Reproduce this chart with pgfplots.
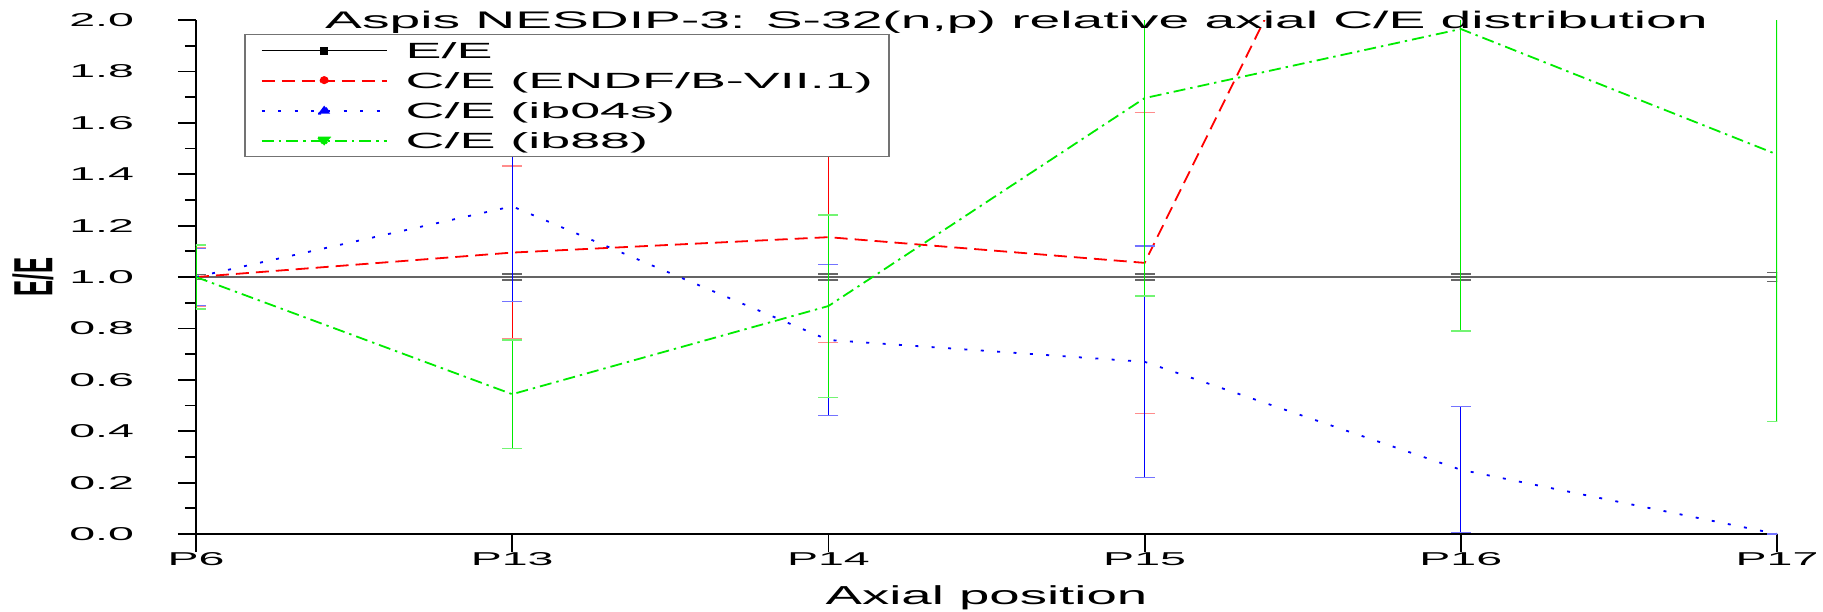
\documentclass[border=0pt]{standalone}
\usepackage{fontspec}
\usepackage{graphicx}
\usepackage{pgfplots}
\usepackage{pgfplotstable}
\pgfplotsset{compat=1.18}
\setmainfont{Liberation Sans}
\newfontfamily\tickfont[FakeStretch=2.5]{Liberation Sans}
\newfontfamily\legfont[FakeStretch=2.45]{Liberation Sans}
\newfontfamily\titlefont[FakeStretch=2.3]{Liberation Sans}
\newfontfamily\labfont[FakeStretch=2.1]{Liberation Sans}

\definecolor{oRed}{RGB}{255,0,0}
\definecolor{oBlue}{RGB}{0,0,255}
\definecolor{oGreen}{RGB}{0,235,0}
\definecolor{oGrey}{RGB}{100,100,100}

% legend samples: line with a marker in the middle
\pgfplotsset{
  legEE/.style={legend image code/.code={\draw[##1, black, line width=0.7pt] (0pt,0pt) -- (62.5pt,0pt);
    \fill[black] (29.75pt,-1.5pt) rectangle (32.75pt,1.5pt);}},
  legEndf/.style={legend image code/.code={\draw[##1] (0pt,0pt) -- (62.5pt,0pt);
    \fill[oRed] (31.25pt,0pt) circle (1.8pt);}},
  legIbf/.style={legend image code/.code={\draw[##1] (0pt,0pt) -- (62.5pt,0pt);
    \fill[oBlue] (28.25pt,-1.5pt) -- (34.25pt,-1.5pt) -- (31.25pt,2.5pt) -- cycle;}},
  legIbe/.style={legend image code/.code={\draw[##1] (0pt,0pt) -- (62.5pt,0pt);
    \fill[oGreen] (28.25pt,1.5pt) -- (34.25pt,1.5pt) -- (31.25pt,-2.5pt) -- cycle;}},
}

% x: 0=P6 1=P13 2=P14 3=P15 4=P16 5=P17
\pgfplotstableread{
x y e
0 1.000 0.010
1 1.000 0.012
2 1.000 0.012
3 1.000 0.012
4 1.000 0.012
5 1.000 0.018
}\eeData
\pgfplotstableread{
x y e
0 1.000 0.115
1 1.095 0.337
2 1.155 0.410
3 1.055 0.585
4 3.550 0.500
5 3.000 0.500
}\endfData
\pgfplotstableread{
x y e
0 1.000 0.110
1 1.275 0.370
2 0.755 0.293
3 0.670 0.450
4 0.250 0.245
5 0.000 0.000
}\ibfoursData
\pgfplotstableread{
x y e
0 1.000 0.125
1 0.544 0.211
2 0.887 0.355
3 1.696 0.770
4 1.965 1.175
5 1.477 1.040
}\ibeightData

\begin{document}
\begin{tikzpicture}
\begin{axis}[
  scale only axis,
  width=790.5pt, height=257pt,
  xmin=0, xmax=5, ymin=0, ymax=2,
  axis x line*=bottom, axis y line*=left,
  axis line style={-, black},
  x axis line style={line width=0.85pt},
  y axis line style={line width=1.35pt},
  xtick={0,1,2,3,4,5},
  xticklabels={P6,P13,P14,P15,P16,P17},
  ytick={0,0.2,0.4,0.6,0.8,1.0,1.2,1.4,1.6,1.8,2.0},
  yticklabels={0.0,0.2,0.4,0.6,0.8,1.0,1.2,1.4,1.6,1.8,2.0},
  minor y tick num=1,
  tick align=outside,
  xtick pos=bottom, ytick pos=left,
  major tick length=9pt, minor tick length=5.5pt,
  tick style={black, line width=0.9pt},
  tick label style={font=\tickfont\fontsize{9.3}{11}\selectfont},
  xticklabel style={anchor=base, yshift=-6.5pt},
  yticklabel style={anchor=east, xshift=-18.5pt},
  title={Aspis NESDIP-3: S-32(n,p) relative axial C/E distribution},
  every axis title shift=0pt,
  title style={at={(0.519,0.984)}, anchor=base, yshift=0pt, inner sep=0pt,
    font=\titlefont\fontsize{12}{14}\selectfont},
  xlabel={Axial position},
  xlabel style={at={(axis description cs:0.5,-0.138)}, anchor=base, inner sep=0pt,
    font=\labfont\fontsize{13}{15}\selectfont},
  ylabel={\scalebox{1}[2.3]{E/E}},
  ylabel style={at={(axis description cs:-0.1031,0.5)}, anchor=center, inner sep=0pt,
    font=\bfseries\fontsize{12}{14}\selectfont},
  legend style={at={(0.0304,0.973)}, anchor=north west,
    draw=black!55, line width=0.75pt, fill=white,
    inner xsep=8pt, inner ysep=0.5pt, row sep=0pt, column sep=9pt,
    font=\legfont\fontsize{11}{13}\selectfont,
    nodes={inner sep=0pt, text height=11.4pt, text depth=3.6pt}},
  legend cell align=left,
]
\addplot[oGrey, line width=1.1pt, legEE,
  error bars/.cd, y dir=both, y explicit, error mark=-,
  error bar style={line width=0.6pt, oGrey},
  error mark options={rotate=90, mark size=5pt, line width=0.7pt, black!60}]
  table[x=x, y=y, y error=e] {\eeData};
\addlegendentry{E/E}
\addplot[oRed, line width=0.9pt, dash pattern=on 6.5pt off 3.5pt, legEndf,
  error bars/.cd, y dir=both, y explicit, error mark=-,
  error bar style={line width=0.6pt, solid, oRed},
  error mark options={rotate=90, mark size=5pt, line width=0.7pt, solid, oRed!45}]
  table[x=x, y=y, y error=e] {\endfData};
\addlegendentry{C/E (ENDF/B-VII.1)}
\addplot[oBlue, line width=0.9pt, dash pattern=on 1.5pt off 6.7pt, legIbf,
  error bars/.cd, y dir=both, y explicit, error mark=-,
  error bar style={line width=0.6pt, solid, oBlue},
  error mark options={rotate=90, mark size=5pt, line width=0.7pt, solid, oBlue!55}]
  table[x=x, y=y, y error=e] {\ibfoursData};
\addlegendentry{C/E (ib04s)}
\addplot[oGreen, line width=0.9pt, dash pattern=on 6pt off 2.5pt on 1.2pt off 2.5pt, legIbe,
  error bars/.cd, y dir=both, y explicit, error mark=-,
  error bar style={line width=0.6pt, solid, oGreen},
  error mark options={rotate=90, mark size=5pt, line width=0.7pt, solid, oGreen!55}]
  table[x=x, y=y, y error=e] {\ibeightData};
\addlegendentry{C/E (ib88)}
\end{axis}
\pgfresetboundingbox
\path (-98pt,-38.5pt) rectangle (813.5pt,267pt);
\end{tikzpicture}
\end{document}
